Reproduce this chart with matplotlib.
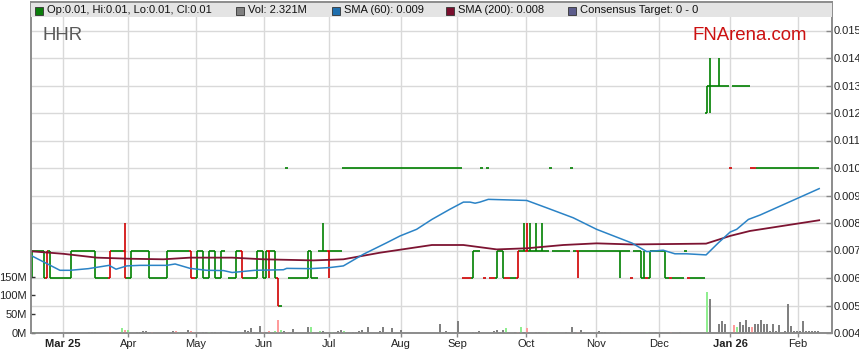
import matplotlib
matplotlib.use("Agg")
import matplotlib.pyplot as plt
from matplotlib.patches import Rectangle
import numpy as np

plt.rcParams['font.family'] = ['Liberation Sans', 'DejaVu Sans']

# ---------------- data ----------------
# daily price bars (one entry per trading day), run-length coded
price_runs = [
    ('U', 1), ('T', 3), ('V', 1), ('R', 1), ('V', 1), ('B', 6), ('U', 1), ('T', 7),
    ('V', 1), ('B', 4), ('R', 1), ('T', 4), ('X', 1), ('B', 1), ('U', 1), ('T', 5),
    ('V', 1), ('B', 5), ('U', 1), ('T', 7), ('D', 1), ('b', 1), ('U', 1), ('T', 1),
    ('V', 1), ('B', 1), ('U', 1), ('T', 1), ('V', 1), ('B', 1), ('U', 1), ('T', 1),
    ('.', 1), ('B', 2), ('U', 1), ('T', 1), ('D', 1), ('B', 4), ('U', 1), ('T', 1),
    ('V', 1), ('U', 1), ('r', 1), ('T', 1), ('V', 1), ('Z', 1), ('z', 1), ('.', 1),
    ('E', 1), ('B', 6), ('U', 1), ('V', 1), ('B', 2), ('T', 1), ('Y', 1), ('T', 1),
    ('r', 1), ('T', 4), ('E', 40), ('b', 3), ('U', 1), ('T', 2), ('E', 1), ('b', 1),
    ('E', 1), ('b', 2), ('U', 1), ('T', 1), ('V', 1), ('b', 2), ('B', 2), ('R', 1),
    ('T', 1), ('Y', 1), ('y', 1), ('Y', 1), ('T', 1), ('Y', 1), ('T', 1), ('Y', 1),
    ('T', 2), ('E', 1), ('T', 6), ('E', 1), ('T', 1), ('r', 1), ('T', 13), ('G', 1),
    ('T', 3), ('b', 1), ('T', 2), ('V', 1), ('W', 1), ('b', 1), ('U', 1), ('T', 4),
    ('V', 1), ('B', 1), ('b', 1), ('B', 4), ('T', 1), ('b', 1), ('B', 5), ('k', 1),
    ('K', 1), ('M', 2), ('J', 1), ('M', 3), ('e', 1), ('M', 6), ('e', 2), ('E', 21),
]
# code -> open, high, low, close (in 0.001) and up/down colour
bar_codes = {
    'T': (7, 7, 7, 7, 'g'), 't': (7, 7, 7, 7, 'r'),
    'B': (6, 6, 6, 6, 'g'), 'b': (6, 6, 6, 6, 'r'),
    'U': (6, 7, 6, 7, 'g'), 'V': (7, 7, 6, 6, 'g'),
    'R': (6, 7, 6, 7, 'r'), 'D': (7, 7, 6, 6, 'r'),
    'r': (7, 7, 6, 7, 'r'), 'G': (7, 7, 6, 7, 'g'), 'W': (6, 7, 6, 6, 'g'),
    'X': (7, 8, 6, 6, 'r'), 'Y': (7, 8, 7, 7, 'g'), 'y': (7, 8, 7, 7, 'r'),
    'Z': (6, 6, 5, 5, 'r'), 'z': (5, 5, 5, 5, 'g'),
    'E': (10, 10, 10, 10, 'g'), 'e': (10, 10, 10, 10, 'r'),
    'k': (12, 13, 12, 13, 'g'), 'K': (13, 14, 12, 13, 'g'),
    'J': (13, 14, 13, 13, 'g'), 'M': (13, 13, 13, 13, 'g'),
}

# volume: day index, millions, colour (g up / r down / k neutral)
vol_day = [1, 7, 13, 19, 20, 21, 26, 30, 31, 32,
           35, 36, 37, 38, 40, 47, 48, 49, 52, 53,
           54, 57, 58, 59, 60, 61, 63, 66, 71, 72,
           73, 74, 76, 77, 78, 79, 81, 82, 83, 84,
           85, 87, 88, 92, 93, 96, 97, 100, 102, 103,
           104, 107, 108, 109, 110, 112, 116, 117, 118, 120,
           123, 136, 137, 138, 139, 142, 147, 148, 149, 154,
           155, 156, 157, 158, 161, 162, 163, 164, 165, 168,
           169, 172, 178, 180, 181, 182, 183, 184, 189, 190,
           191, 193, 196, 205, 208, 213, 216, 225, 226, 229,
           230, 231, 234, 235, 236, 237, 238, 239, 240, 241,
           242, 243, 244, 245, 246, 247, 248, 249, 251, 252,
           253, 254, 255, 256, 257, 258, 259, 260, 261, 262]
vol_m = [3, 3, 3, 3, 3, 3, 3, 13, 9, 9,
         3, 3, 6, 6, 3, 6, 6, 3, 9, 6,
         3, 3, 3, 3, 3, 3, 3, 3, 8, 6,
         13, 3, 18, 3, 3, 6, 6, 34, 8, 6,
         3, 10, 3, 17, 17, 6, 6, 3, 6, 8,
         6, 3, 3, 6, 8, 17, 6, 15, 3, 12,
         8, 23, 3, 6, 3, 31, 3, 3, 6, 6,
         8, 3, 7, 13, 3, 3, 15, 3, 13, 3,
         3, 3, 3, 15, 3, 3, 9, 3, 6, 3,
         3, 3, 3, 3, 3, 3, 3, 110, 91, 23,
         31, 23, 20, 17, 28, 21, 34, 16, 15, 23,
         23, 34, 25, 25, 4, 24, 5, 21, 6, 77,
         18, 5, 6, 6, 31, 4, 6, 4, 4, 4]
vol_dir = ("gkkkkkrgrg"
           "kkkkrkrgkr"
           "rkkgkkkkkk"
           "kkkrkrgrgk"
           "rkkkggkgkk"
           "gkkkkkkkkk"
           "kkkkkkkkkk"
           "kkkgkrgkrk"
           "kgkkkrkkkk"
           "kkkgkrkgkk"
           "kkrgkkkkrk"
           "kkkkkkkkkk"
           "kkkkkkkkkk")

# moving averages: (day index, value)
sma60_day = [0, 4.3, 9.3, 12.7, 18.8, 25.7, 28, 31.6, 36, 44.9, 47.7, 52.7, 58.2, 63.8, 66.7,
             74.3, 83.8, 84.9, 92.7, 99.3, 103.8, 110.4, 118.2, 122.7, 128.2, 133.3, 139.3,
             143.8, 146, 147.7, 149.3, 152.1, 164.9, 171.6, 180.4, 188.2, 200, 204.9, 210.4,
             214.3, 218.2, 224.7, 228.8, 232.7, 234.9, 238.8, 242.7, 262.4]
sma60_val = [0.0068, 0.00656, 0.00628, 0.00628, 0.00634, 0.00646, 0.00632, 0.00644, 0.00646,
             0.00646, 0.00651, 0.00635, 0.00628, 0.00627, 0.0062, 0.00628, 0.0063, 0.00635,
             0.00634, 0.00638, 0.00644, 0.00686, 0.00728, 0.00753, 0.00777, 0.00813, 0.0085,
             0.00876, 0.00876, 0.00872, 0.00876, 0.00886, 0.00882, 0.00855, 0.00819, 0.00777,
             0.00727, 0.00696, 0.00701, 0.00688, 0.00688, 0.00684, 0.00728, 0.00767, 0.00777,
             0.00813, 0.00829, 0.00925]
sma200_day = [0, 10.4, 21.6, 32.7, 43.8, 52.7, 66.7, 77.1, 93.8, 103.8, 116, 133.3, 143.8,
              154.9, 164.9, 177.1, 188.2, 200, 224.7, 232.7, 239.3, 262.4]
sma200_val = [0.00697, 0.00688, 0.00674, 0.0067, 0.00668, 0.00674, 0.00674, 0.00668, 0.00664,
              0.00668, 0.00692, 0.0072, 0.0072, 0.00704, 0.00708, 0.0072, 0.00726, 0.00722,
              0.00725, 0.00753, 0.00771, 0.0081]

month_pos = [10.4, 32.1, 54.7, 77.4, 99.1, 123, 141.8, 164.6, 188, 208.9, 232.7, 255.4]
month_lbl = ["Mar 25", "Apr", "May", "Jun", "Jul", "Aug", "Sep", "Oct", "Nov", "Dec", "Jan 26", "Feb"]
price_ticks = [0.004, 0.005, 0.006, 0.007, 0.008, 0.009, 0.010, 0.011, 0.012, 0.013, 0.014, 0.015]
vol_ticks = [0, 50, 100, 150]

legend_items = [("Op:0.01, Hi:0.01, Lo:0.01, Cl:0.01", "#0b7d0b"),
                ("Vol: 2.321M", "#808080"),
                ("SMA (60): 0.009", "#1f6fae"),
                ("SMA (200): 0.008", "#7a0f2e"),
                ("Consensus Target: 0 - 0", "#5d5d8c")]

# ---------------- build OHLC ----------------
codes = "".join(c * n for c, n in price_runs)
days, op, hi, lo, cl, col = [], [], [], [], [], []
for i, c in enumerate(codes):
    if c == '.':
        continue
    o, h, l, cc, d = bar_codes[c]
    days.append(i); op.append(o / 1000); hi.append(h / 1000); lo.append(l / 1000)
    cl.append(cc / 1000); col.append(d)
days = np.array(days, float)
GREEN, RED = "#008000", "#d00000"
colors = [GREEN if d == 'g' else RED for d in col]

# ---------------- figure ----------------
W, H = 859, 363
fig = plt.figure(figsize=(W / 100, H / 100), dpi=100)
L, R, T, B = 31, 832, 2, 333
ax = fig.add_axes([L / W, (H - B) / H, (R - L) / W, (B - T) / H])
ax.set_xlim(-1 / 3, 266.667)
ax.set_ylim(0.004, 0.004 + (B - T) / 27500)

grid_c = "#d9d9d9"
for p in price_ticks:
    ax.axhline(p, color=grid_c, lw=1.0, zorder=0)
for m in month_pos:
    ax.axvline(m, color=grid_c, lw=1.0, zorder=0)

# volume on twin axis
axv = ax.twinx()
axv.set_ylim(0, 880)
vcol = {'g': "#90ee90", 'r': "#ff9c9c", 'k': "#808080"}
axv.bar(vol_day, vol_m, width=0.7, color=[vcol[c] for c in vol_dir], zorder=1)

# OHLC bars
lw = 1.2
mask = np.array(hi) > np.array(lo)
ax.vlines(days[mask], np.array(lo)[mask], np.array(hi)[mask],
          colors=[c for c, m in zip(colors, mask) if m], lw=lw, zorder=3)
ax.hlines(op, days - 0.5, days, colors=colors, lw=lw, zorder=3)
ax.hlines(cl, days, days + 0.5, colors=colors, lw=lw, zorder=3)

# SMAs
ax.plot(sma200_day, sma200_val, color="#7d1432", lw=1.3, zorder=4)
ax.plot(sma60_day, sma60_val, color="#2b83c6", lw=1.1, zorder=5)

# axes styling
ax.yaxis.tick_right()
ax.set_yticks(price_ticks)
ax.set_yticklabels([f"{p:.3f}" for p in price_ticks])
ax.tick_params(axis='y', which='both', right=True, left=False, direction='in', length=4,
               width=1, color="#888888", labelsize=8, labelcolor="#222222", pad=1.5)
ax.set_xticks(month_pos)
ax.set_xticklabels(month_lbl)
for t, lab in zip(ax.get_xticklabels(), month_lbl):
    if " " in lab:
        t.set_fontweight('bold')
ax.tick_params(axis='x', length=3, width=1, color="#888888", labelsize=8,
               labelcolor="#222222", pad=1.5)

axv.yaxis.tick_left()
axv.set_yticks(vol_ticks)
axv.set_yticklabels([f"{v}M" for v in vol_ticks])
axv.tick_params(axis='y', left=True, right=False, direction='in', length=3, width=1,
                color="#333333", labelsize=8, labelcolor="#222222", pad=3)

for a in (ax, axv):
    for s in a.spines.values():
        s.set_color("#8c8c8c")
        s.set_linewidth(1.2)

# legend bar
def fx(px):
    return px / W

def fy(py):
    return 1 - py / H

fig.add_artist(Rectangle((fx(L + 0.5), fy(17)), fx(R - L - 1), 14 / H,
                         transform=fig.transFigure, facecolor="#e4e4e4",
                         edgecolor="none", zorder=10))
xs = [35, 236, 332, 446, 568]
for x0, (txt, c) in zip(xs, legend_items):
    fig.add_artist(Rectangle((fx(x0), fy(14.5)), 8 / W, 8 / H, transform=fig.transFigure,
                             facecolor=c, edgecolor="#333333", lw=0.6, zorder=11))
    fig.text(fx(x0 + 12), fy(10.3), txt, fontsize=8, color="#111111", va='center',
             ha='left', zorder=12)

fig.text(fx(42), fy(39.5), "HHR", fontsize=13.4, color="#5a5a5a", va='baseline', ha='left')
fig.text(fx(693), fy(39.5), "FNArena.com", fontsize=13.4, color="#cc1111",
         va='baseline', ha='left')

fig.savefig("out.png", dpi=100)
